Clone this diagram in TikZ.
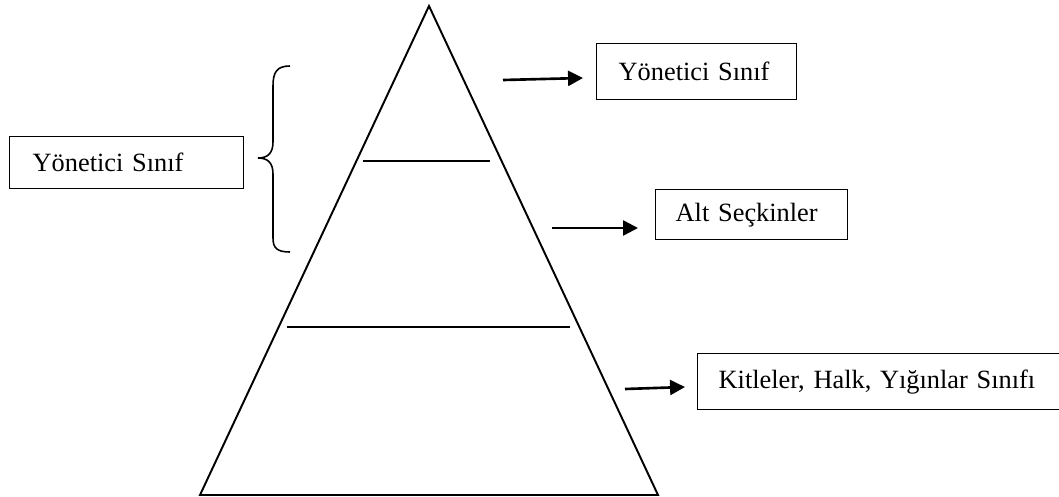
\documentclass[tikz,border=0pt]{standalone}
\usepackage{fontspec}
\setmainfont{Liberation Serif}
\usepackage{tikz}
\usetikzlibrary{arrows.meta}

\tikzset{
  klasbox/.style={draw, line width=0.8pt, anchor=north west, align=left,
    inner xsep=0pt, inner ysep=0pt, font=\fontsize{15}{18}\selectfont},
  okline/.style={line width=1.5pt, -{Triangle[length=8.5pt,width=8.5pt]}},
}

\begin{document}
\begin{tikzpicture}[x=0.02cm,y=-0.02cm]
			\useasboundingbox (0,0) rectangle (1059,497);
			% the pyramid
			\coordinate (tepe) at (429,6);
			\coordinate (solalt) at (200,495);
			\coordinate (sagalt) at (658,495);
			\draw[line width=1.1pt,line join=miter] (tepe) -- (solalt) -- (sagalt) -- cycle;
			% layer lines
			\draw[line width=1.1pt] (363,161) -- (490,161);
			\draw[line width=1.1pt] (287,327) -- (570,327);
			% brace on the left
			\draw[line width=0.9pt] (290,66) .. controls (277,66) and (273,72) .. (273,86)
				-- (273,142) .. controls (273,153) and (268,158) .. (258,158)
				.. controls (268,158) and (273,163) .. (273,174)
				-- (273,238) .. controls (273,248) and (277,252) .. (290,252);
			% boxes
			\node[klasbox, minimum width=4.68cm, minimum height=1.04cm, text width=3.76cm] (yonsol) at (9,136) {Yönetici Sınıf};
			\node[klasbox, minimum width=4.0cm, minimum height=1.12cm, text width=3.12cm] (yonetici) at (596,43) {Yönetici Sınıf};
			\node[klasbox, minimum width=3.84cm, minimum height=1.0cm, text width=3.04cm] (seckin) at (655,189) {Alt Seçkinler};
			\node[klasbox, minimum width=7.3cm, minimum height=1.12cm, text width=6.46cm] (kitle) at (697,353) {Kitleler, Halk, Yığınlar Sınıfı};
			% arrows
			\coordinate (o1) at (503,80);
			\coordinate (o1u) at (583,78);
			\coordinate (o2) at (552,228);
			\coordinate (o2u) at (638,228);
			\coordinate (o3) at (625,389);
			\coordinate (o3u) at (685,387);
			\draw[okline] (o1) -- (o1u);
			\draw[okline] (o2) -- (o2u);
			\draw[okline] (o3) -- (o3u);
		\end{tikzpicture}
\end{document}
